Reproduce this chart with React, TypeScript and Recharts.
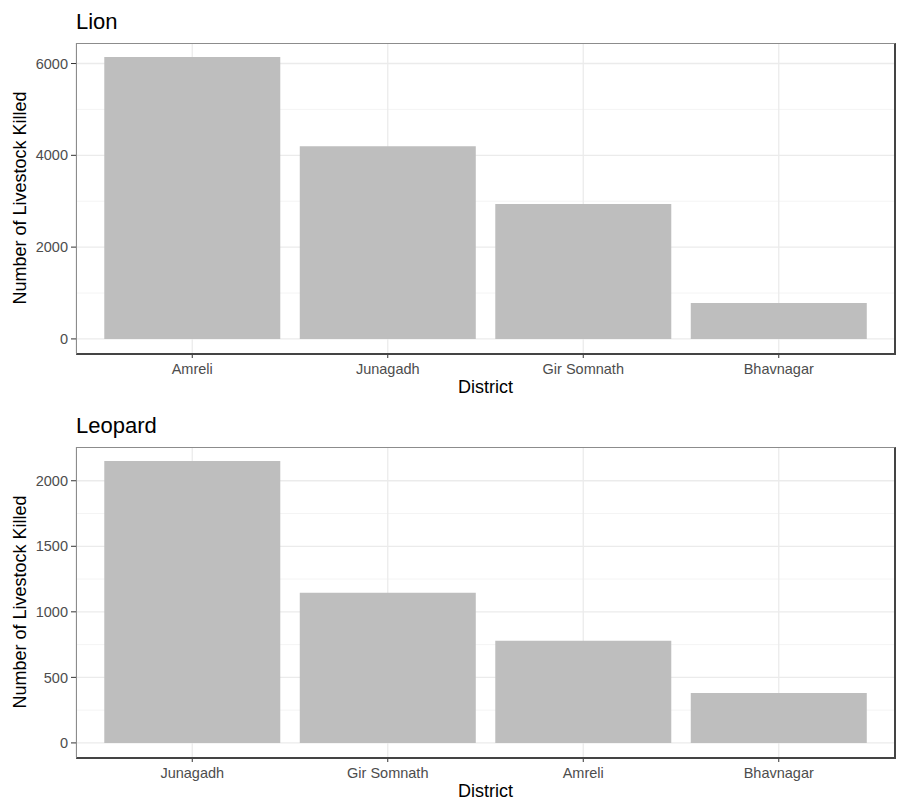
import { BarChart, Bar, XAxis, YAxis, CartesianGrid } from 'recharts';

const lionDistricts = ['Amreli', 'Junagadh', 'Gir Somnath', 'Bhavnagar'];
const lionKills = [6140, 4200, 2940, 785];
const lionTicks = [0, 2000, 4000, 6000];
const lionMinorTicks = [1000, 3000, 5000];

const leopardDistricts = ['Junagadh', 'Gir Somnath', 'Amreli', 'Bhavnagar'];
const leopardKills = [2150, 1145, 780, 380];
const leopardTicks = [0, 500, 1000, 1500, 2000];
const leopardMinorTicks = [250, 750, 1250, 1750];

const FONT = '"Liberation Sans", Arial, sans-serif';

interface PanelProps {
    title: string;
    districts: string[];
    values: number[];
    ticks: number[];
    minorTicks: number[];
}

// ggplot-like 5% expansion of the value range
function expand(values: number[]): [number, number] {
    const max = Math.max(...values);
    return [-max * 0.05, max * 1.05];
}

function YTitle({ viewBox }: any) {
    const cy = viewBox.y + viewBox.height / 2;
    return (
        <text
            x={26}
            y={cy}
            transform={`rotate(-90 26 ${cy})`}
            textAnchor="middle"
            fontSize={18}
            fontFamily={FONT}
            fill="#000"
        >
            Number of Livestock Killed
        </text>
    );
}

function XTitle({ viewBox }: any) {
    return (
        <text
            x={viewBox.x + viewBox.width / 2}
            y={viewBox.y + 40}
            textAnchor="middle"
            fontSize={18}
            fontFamily={FONT}
            fill="#000"
        >
            District
        </text>
    );
}

function Panel({ title, districts, values, ticks, minorTicks }: PanelProps) {
    const data = districts.map((district, i) => ({ district, value: values[i] }));

    return (
        <div style={{ position: 'relative', width: 898, height: 404 }}>
            <div
                style={{
                    position: 'absolute',
                    left: 76,
                    top: 11,
                    fontFamily: FONT,
                    fontSize: 22,
                    lineHeight: '22px',
                    color: '#000'
                }}
            >
                {title}
            </div>
            <BarChart
                width={898}
                height={404}
                data={data}
                margin={{ top: 43, right: 3, left: 0, bottom: 0 }}
                barCategoryGap="5%"
            >
                <CartesianGrid
                    horizontalValues={minorTicks}
                    vertical={false}
                    stroke="#F4F4F4"
                    strokeWidth={1}
                />
                <CartesianGrid
                    horizontalValues={ticks}
                    stroke="#EBEBEB"
                    strokeWidth={1.3}
                />
                <XAxis
                    dataKey="district"
                    height={51}
                    padding={{ left: 18.5, right: 18.5 }}
                    tickSize={5}
                    tickMargin={6}
                    tick={{ fill: '#4D4D4D', fontSize: 14.5, fontFamily: FONT }}
                    tickLine={{ stroke: '#333', strokeWidth: 1 }}
                    axisLine={false}
                    label={<XTitle />}
                />
                <YAxis
                    width={76}
                    domain={expand(values)}
                    ticks={ticks}
                    allowDataOverflow
                    tickSize={5}
                    tickMargin={3}
                    tick={{ fill: '#4D4D4D', fontSize: 14.5, fontFamily: FONT }}
                    tickLine={{ stroke: '#333', strokeWidth: 1 }}
                    axisLine={false}
                    label={<YTitle />}
                />
                <Bar dataKey="value" fill="#BEBEBE" isAnimationActive={false} />
            </BarChart>
            {/* panel border, drawn over the plot area */}
            <div
                style={{
                    position: 'absolute',
                    left: 76,
                    top: 43,
                    width: 820,
                    height: 312,
                    boxSizing: 'border-box',
                    borderLeft: '1px solid #8C8C8C',
                    borderTop: '1px solid #8C8C8C',
                    borderRight: '2px solid #444',
                    borderBottom: '2px solid #444',
                    pointerEvents: 'none'
                }}
            />
        </div>
    );
}

export default function App() {
    return (
        <div style={{ position: 'absolute', left: 0, top: 0, width: 898, height: 809, background: '#fff' }}>
            <Panel
                title="Lion"
                districts={lionDistricts}
                values={lionKills}
                ticks={lionTicks}
                minorTicks={lionMinorTicks}
            />
            <Panel
                title="Leopard"
                districts={leopardDistricts}
                values={leopardKills}
                ticks={leopardTicks}
                minorTicks={leopardMinorTicks}
            />
        </div>
    );
}
